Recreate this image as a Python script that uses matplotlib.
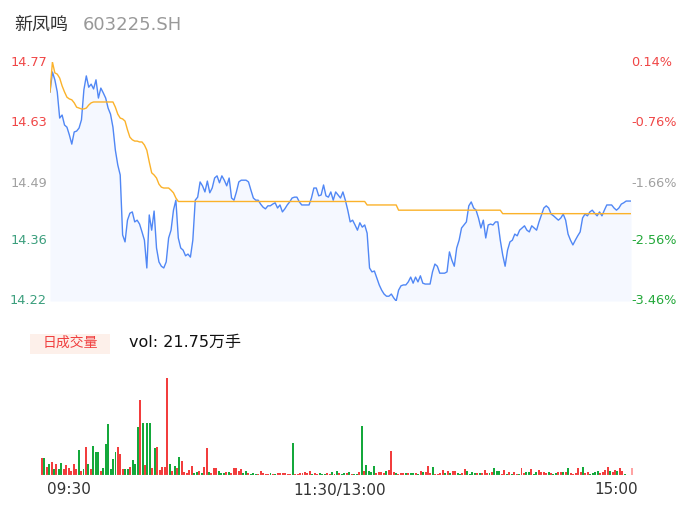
import numpy as np
import matplotlib
matplotlib.use('Agg')
import matplotlib.pyplot as plt
from matplotlib.patches import Rectangle

plt.rcParams['font.family'] = ['Noto Sans CJK SC', 'DejaVu Sans']

# ---- data (one value per minute, 09:30 .. 11:30 / 13:01 .. 15:00) ----
price = [
    14.701, 14.747, 14.729, 14.701, 14.641, 14.648, 14.625, 14.620, 14.602, 14.581,
    14.609, 14.611, 14.618, 14.637, 14.706, 14.738, 14.712, 14.719, 14.708, 14.729,
    14.687, 14.710, 14.699, 14.687, 14.664, 14.650, 14.620, 14.567, 14.533, 14.510,
    14.372, 14.356, 14.406, 14.422, 14.425, 14.402, 14.406, 14.397, 14.379, 14.360,
    14.296, 14.418, 14.383, 14.427, 14.342, 14.310, 14.300, 14.296, 14.310, 14.365,
    14.383, 14.429, 14.452, 14.365, 14.342, 14.337, 14.324, 14.328, 14.321, 14.360,
    14.452, 14.459, 14.494, 14.485, 14.471, 14.496, 14.469, 14.480, 14.503, 14.508,
    14.492, 14.508, 14.498, 14.485, 14.503, 14.457, 14.452, 14.471, 14.494, 14.498,
    14.498, 14.498, 14.494, 14.475, 14.457, 14.452, 14.452, 14.443, 14.436, 14.432,
    14.439, 14.439, 14.443, 14.446, 14.434, 14.441, 14.425, 14.432, 14.441, 14.448,
    14.457, 14.459, 14.459, 14.448, 14.441, 14.441, 14.441, 14.441, 14.457, 14.480,
    14.480, 14.462, 14.464, 14.487, 14.462, 14.459, 14.471, 14.452, 14.471, 14.464,
    14.457, 14.471, 14.452, 14.429, 14.402, 14.406, 14.395, 14.383, 14.400, 14.390,
    14.395, 14.376, 14.296, 14.287, 14.289, 14.273, 14.257, 14.245, 14.236, 14.231,
    14.231, 14.236, 14.227, 14.220, 14.245, 14.255, 14.257, 14.257, 14.264, 14.275,
    14.261, 14.275, 14.264, 14.278, 14.261, 14.259, 14.259, 14.259, 14.287, 14.305,
    14.300, 14.284, 14.284, 14.284, 14.287, 14.333, 14.314, 14.300, 14.342, 14.360,
    14.388, 14.395, 14.402, 14.439, 14.448, 14.434, 14.429, 14.411, 14.388, 14.406,
    14.365, 14.395, 14.397, 14.395, 14.402, 14.402, 14.360, 14.326, 14.300, 14.337,
    14.356, 14.360, 14.374, 14.370, 14.383, 14.388, 14.393, 14.383, 14.379, 14.393,
    14.388, 14.383, 14.402, 14.418, 14.434, 14.439, 14.434, 14.420, 14.416, 14.411,
    14.406, 14.411, 14.420, 14.406, 14.374, 14.360, 14.349, 14.360, 14.370, 14.379,
    14.411, 14.420, 14.416, 14.425, 14.429, 14.422, 14.416, 14.425, 14.416, 14.429,
    14.441, 14.441, 14.441, 14.434, 14.429, 14.434, 14.443, 14.446, 14.450, 14.450,
    14.450,
]

avg_price = (
    [14.701, 14.770, 14.745, 14.742, 14.733, 14.715, 14.701, 14.689, 14.685, 14.683,
     14.676, 14.666, 14.664, 14.662, 14.662, 14.664, 14.671, 14.676, 14.678, 14.678]
    + [14.678] * 7
    + [14.666, 14.650, 14.641, 14.639, 14.634, 14.614, 14.597, 14.591, 14.588, 14.588,
       14.586, 14.586, 14.579, 14.567, 14.540, 14.515, 14.510, 14.503, 14.489, 14.482,
       14.480, 14.480, 14.480, 14.475, 14.469, 14.457]
    + [14.449] * 78
    + [14.441] * 13
    + [14.429] * 43
    + [14.421] * 54
)

volume = [
    16.7, 16.7, 7.7, 11, 12.7, 5.7, 11.3, 6.3, 11.7, 6,
    10.3, 7, 4, 10.7, 6, 24.7, 4, 5.7, 28, 11.3,
    5.7, 29, 22.7, 22.7, 4, 7.3, 31.3, 51.3, 6, 16,
    22.7, 28, 21, 6, 6, 6.3, 8.3, 15, 11, 48.3,
    75.3, 52.3, 10, 52.3, 52.3, 7, 27.3, 27.7, 5, 8.3,
    7.7, 97, 11, 4, 9, 7, 17.7, 14, 3.3, 2,
    5, 9, 2.3, 2.7, 4, 2.3, 8.3, 26.7, 2.7, 2,
    7, 6.7, 4, 2.3, 2, 2.7, 2.7, 2, 7.3, 6.7,
    4.3, 5.7, 2, 4, 1.7, 1.3, 2.3, 1, 0.7, 4,
    2.3, 1, 1, 2, 1, 1.3, 2, 1.7, 2.3, 1.7,
    1, 1, 32, 1, 1, 1.7, 1.7, 2.7, 2, 4,
    1.3, 1.7, 1, 1.7, 1, 1, 1.7, 1, 3, 1.3,
    4, 2.3, 1, 2.3, 2, 3.3, 1, 1, 1, 2.7,
    49, 4, 10, 4, 3, 8.7, 2.3, 3, 3, 2.3,
    4, 5, 24, 3, 1.7, 1, 1.7, 1.7, 1.7, 1.7,
    2.3, 1.7, 1.7, 1, 3.7, 3, 3, 8.7, 2, 7.7,
    1, 1, 1.7, 5, 1.7, 3.7, 2, 3.7, 3.7, 2.3,
    1.3, 2.3, 6, 3.7, 0.7, 3, 2, 2, 1.7, 2,
    5, 2, 2, 3, 7, 3.7, 3.7, 1.3, 5, 1.3,
    2.7, 1.3, 2.7, 1.3, 0.7, 7, 2.3, 3, 3, 6,
    0.7, 2.7, 5, 3, 3, 2, 3, 1.7, 1, 2.3,
    3, 3, 3, 3, 6.7, 1.7, 1, 1.7, 6.7, 3,
    8.3, 2.3, 3, 1.3, 1.7, 3, 3.7, 2, 3.3, 4.7,
    7.7, 4, 3, 5, 4, 6.7, 3.7, 0.7, 0, 0, 6.7,
]

# r = up minute, g = down minute, p = closing auction
vol_dir = ("rgrgrgrggr rrrrrgrgrg rgggrggggg grrrggrggg rgrggrgrrr "
           "rrgrgrgrrr rrggrgrrgr rrgggrgrrr rrggrgggrr rrrgrgrrrr "
           "rrgrrrrrrr grrgggrrgr grggrgrggr grggggrrrr grrrgrrrgr "
           "ggrgrgrrrg rrrrgrgrrg grrggggrgr rrgrgggrrg rgrrgrrggr "
           "ggrrrrgrgg rrgrgrrrrr grrggggrrr rgrrgrrgrrp").replace(" ", "")

y_ticks = [14.77, 14.63, 14.49, 14.36, 14.22]
pct_labels = ['0.14%', '-0.76%', '-1.66%', '-2.56%', '-3.46%']
time_labels = ['09:30', '11:30/13:00', '15:00']

RED = '#f23d3d'
GREEN = '#14a83b'
dir_colors = {'r': RED, 'g': GREEN, 'p': '#ffa3a3'}

W, H = 686, 524
fig = plt.figure(figsize=(W / 100, H / 100), dpi=100)


def box(x0, y0, x1, y1):
    # pixel box (top-left origin) -> figure rect
    return [x0 / W, 1 - y1 / H, (x1 - x0) / W, (y1 - y0) / H]


# ---- price panel ----
ax = fig.add_axes(box(50, 62, 631, 301))
x = np.arange(len(price))
ax.fill_between(x, price, y_ticks[-1], color='#f5f8ff', lw=0)
ax.plot(x, price, color='#5087f5', lw=1.0)
ax.plot(np.arange(len(avg_price)), avg_price, color='#fbb22a', lw=1.0)
ax.set_xlim(0, len(price) - 1)
ax.set_ylim(y_ticks[-1], y_ticks[0])
ax.axis('off')

left_colors = ['#f04646', '#f04646', '#a0a0a0', '#3a9e7c', '#3a9e7c']
right_colors = ['#f04646', '#f04646', '#a0a0a0', '#22a839', '#22a839']
for v, c in zip(y_ticks, left_colors):
    ax.text(-3 / 2.42, v, f'{v:.2f}', color=c, fontsize=9.3, ha='right', va='center',
            family='DejaVu Sans')
for v, lab, c in zip(y_ticks, pct_labels, right_colors):
    ax.text(len(price) - 1, v, lab, color=c, fontsize=9.3, ha='left', va='center',
            family='DejaVu Sans')

# ---- title ----
fig.text(14 / W, 1 - 25 / H, '新凤鸣', fontsize=13, color='#333333', va='center')
fig.text(83 / W, 1 - 25 / H, '603225.SH', fontsize=13, color='#999999', va='center',
         family='DejaVu Sans')

# ---- volume header ----
fig.patches.append(Rectangle((30 / W, 1 - 354 / H), 80 / W, 20 / H,
                             transform=fig.transFigure, color='#fdf0ea', lw=0))
fig.text(70 / W, 1 - 343 / H, '日成交量', fontsize=10, color='#f04040',
         ha='center', va='center')
fig.text(129 / W, 1 - 342 / H, 'vol: 21.75万手', fontsize=11.5, color='#111111',
         va='center', family=['DejaVu Sans', 'Noto Sans CJK SC'])

# ---- volume panel ----
axv = fig.add_axes(box(40.2, 378, 633.7, 475))
vx = np.arange(len(volume))
axv.bar(vx, volume, width=0.8, color=[dir_colors[d] for d in vol_dir], lw=0)
axv.axhline(0, color='#e6e6e6', lw=0.8)
axv.set_xlim(-0.6, len(volume) - 0.4)
axv.set_ylim(0, max(volume))
axv.axis('off')

# ---- time axis ----
fig.text(47 / W, 1 - 490 / H, time_labels[0], fontsize=11, color='#333333',
         ha='left', va='center', family='DejaVu Sans')
fig.text(340 / W, 1 - 490 / H, time_labels[1], fontsize=11, color='#333333',
         ha='center', va='center', family='DejaVu Sans')
fig.text(638 / W, 1 - 490 / H, time_labels[2], fontsize=11, color='#333333',
         ha='right', va='center', family='DejaVu Sans')

fig.savefig('out.png', dpi=100)
